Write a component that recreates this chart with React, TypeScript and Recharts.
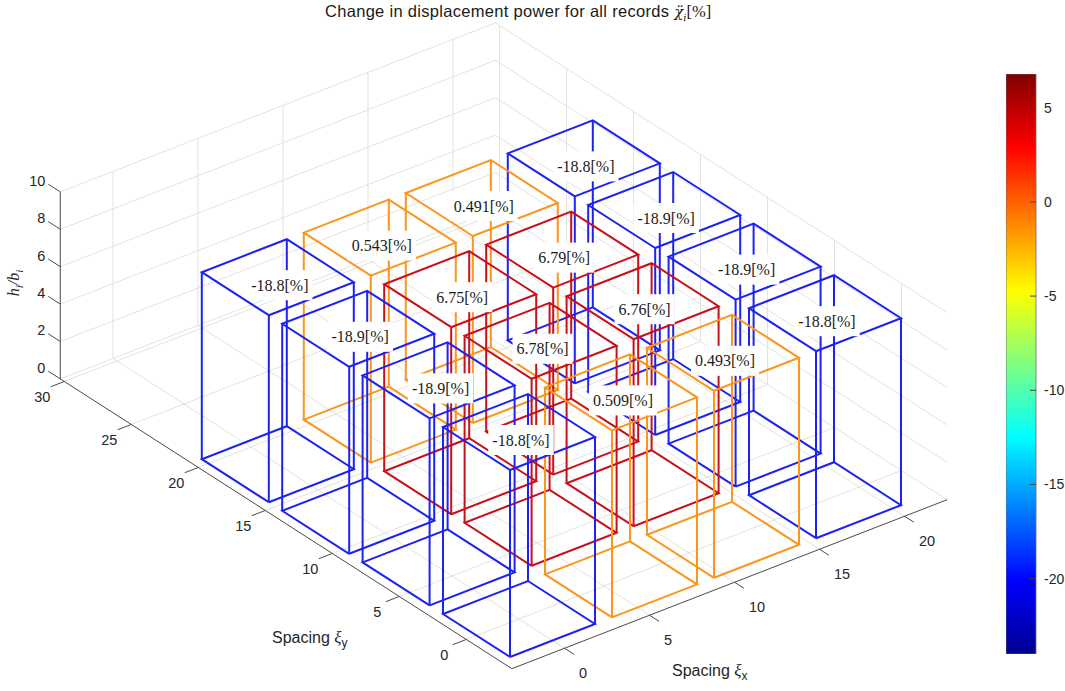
import React from "react";
import {
  ScatterChart,
  Scatter,
  XAxis,
  YAxis,
  ComposedChart,
  ReferenceArea,
  ReferenceLine,
} from "recharts";

// grid of cases (box centres) in spacing units
const SPACING_X = [0, 6, 12, 18];
const SPACING_Y = [0, 6, 12, 18];
const BOX_SIZE = 5;
const BOX_HEIGHT = 10;

// change in displacement power [%], one list per spacing_x column (along spacing_y)
const CHANGE_X0 = [-18.8, -18.9, -18.9, -18.8];
const CHANGE_X6 = [0.509, 6.78, 6.75, 0.543];
const CHANGE_X12 = [0.493, 6.76, 6.79, 0.491];
const CHANGE_X18 = [-18.8, -18.9, -18.9, -18.8];
const CHANGE = [CHANGE_X0, CHANGE_X6, CHANGE_X12, CHANGE_X18];

// 3d axes
const X_LIM = [-3.1, 22.5];
const Y_LIM = [-3.4, 30.3];
const Z_LIM = [0, 10];
const X_TICKS = [0, 5, 10, 15, 20];
const Y_TICKS = [0, 5, 10, 15, 20, 25, 30];
const Z_TICKS = [0, 2, 4, 6, 8, 10];

// colorbar
const CBAR_LIM = [-24, 6.79];
const CBAR_TICKS = [-20, -15, -10, -5, 0, 5];

const W = 1065;
const H = 691;

const BLUE = "#1c22f0";
const ORANGE = "#fb951c";
const RED = "#c8101a";
const GRID = "#e2e2e2";
const AXIS = "#4a4a4a";
const INK = "#262626";

const SANS = "'Liberation Sans', Arial, Helvetica, sans-serif";
const SERIF = "'Liberation Serif', 'Times New Roman', serif";

// orthographic view of the 3d box (screen units per data unit)
const VIEW = { u0: 519, v0: 619, ux: 17, vx: -6.6, uy: -13.4, vy: -8.6, vz: -18.7 };
const proj = (x: number, y: number, z: number) => ({
  u: VIEW.u0 + VIEW.ux * x + VIEW.uy * y,
  v: VIEW.v0 + VIEW.vx * x + VIEW.vy * y + VIEW.vz * z,
});

type Pt = { u: number; v: number };
type Seg = { pts: Pt[]; color: string; width: number };

const colorOf = (v: number) => (v < -10 ? BLUE : v < 3 ? ORANGE : RED);

const seg3 = (a: number[], b: number[], color: string, width = 1): Seg => ({
  pts: [proj(a[0], a[1], a[2]), proj(b[0], b[1], b[2])],
  color,
  width,
});

// grid lines on floor and back walls
const gridSegs: Seg[] = [];
X_TICKS.forEach((x) => {
  gridSegs.push(seg3([x, Y_LIM[0], 0], [x, Y_LIM[1], 0], GRID));
  gridSegs.push(seg3([x, Y_LIM[1], Z_LIM[0]], [x, Y_LIM[1], Z_LIM[1]], GRID));
});
Y_TICKS.forEach((y) => {
  gridSegs.push(seg3([X_LIM[0], y, 0], [X_LIM[1], y, 0], GRID));
  gridSegs.push(seg3([X_LIM[1], y, Z_LIM[0]], [X_LIM[1], y, Z_LIM[1]], GRID));
});
Z_TICKS.forEach((z) => {
  gridSegs.push(seg3([X_LIM[0], Y_LIM[1], z], [X_LIM[1], Y_LIM[1], z], GRID));
  gridSegs.push(seg3([X_LIM[1], Y_LIM[0], z], [X_LIM[1], Y_LIM[1], z], GRID));
});

// axis lines and tick marks
const axisSegs: Seg[] = [
  seg3([X_LIM[0], Y_LIM[0], 0], [X_LIM[1], Y_LIM[0], 0], AXIS),
  seg3([X_LIM[0], Y_LIM[0], 0], [X_LIM[0], Y_LIM[1], 0], AXIS),
  seg3([X_LIM[0], Y_LIM[1], Z_LIM[0]], [X_LIM[0], Y_LIM[1], Z_LIM[1]], AXIS),
];
X_TICKS.forEach((x) => axisSegs.push(seg3([x, Y_LIM[0], 0], [x, Y_LIM[0] - 0.7, 0], AXIS)));
Y_TICKS.forEach((y) => axisSegs.push(seg3([X_LIM[0], y, 0], [X_LIM[0] - 0.8, y, 0], AXIS)));
Z_TICKS.forEach((z) => axisSegs.push(seg3([X_LIM[0], Y_LIM[1], z], [X_LIM[0], Y_LIM[1] + 0.9, z], AXIS)));

// wireframe boxes, back to front
type Box = { cx: number; cy: number; value: number };
const boxes: Box[] = [];
SPACING_X.forEach((cx, i) =>
  SPACING_Y.forEach((cy, j) => boxes.push({ cx, cy, value: CHANGE[i][j] }))
);
boxes.sort((a, b) => b.cx + b.cy - (a.cx + a.cy));

const boxSegs: Seg[] = [];
boxes.forEach(({ cx, cy, value }) => {
  const h = BOX_SIZE / 2;
  const c = colorOf(value);
  const xs = [cx - h, cx + h];
  const ys = [cy - h, cy + h];
  const loop = (z: number): Seg => ({
    pts: [
      proj(xs[0], ys[0], z),
      proj(xs[1], ys[0], z),
      proj(xs[1], ys[1], z),
      proj(xs[0], ys[1], z),
      proj(xs[0], ys[0], z),
    ],
    color: c,
    width: 2,
  });
  boxSegs.push(loop(0), loop(BOX_HEIGHT));
  [
    [xs[0], ys[0]],
    [xs[1], ys[0]],
    [xs[1], ys[1]],
    [xs[0], ys[1]],
  ].forEach(([x, y]) => boxSegs.push(seg3([x, y, 0], [x, y, BOX_HEIGHT], c, 2)));
});

const boxLabels = boxes.map((b) => ({ ...proj(b.cx, b.cy, BOX_HEIGHT), label: `${b.value}[%]` }));

const xTickLabels = X_TICKS.map((x) => ({ ...proj(x, Y_LIM[0], 0), label: String(x) }));
const yTickLabels = Y_TICKS.map((y) => ({ ...proj(X_LIM[0], y, 0), label: String(y) }));
const zTickLabels = Z_TICKS.map((z) => ({ ...proj(X_LIM[0], Y_LIM[1], z), label: String(z) }));

const charW: Record<string, number> = { "-": 5.4, ".": 4, "[": 5.4, "]": 5.4, "%": 13.3 };
const textWidth = (s: string) => s.split("").reduce((w, ch) => w + (charW[ch] ?? 8), 0);

const NoDot = () => <g />;

const BoxLabel = (p: any) => {
  const { cx, cy, payload } = p;
  const w = textWidth(payload.label) + 8;
  const x = cx + 2;
  const y = cy + 8;
  return (
    <g>
      <rect x={x - w / 2} y={y - 15} width={w} height={30} fill="#fff" />
      <text
        x={x}
        y={y}
        textAnchor="middle"
        dominantBaseline="central"
        fontFamily={SERIF}
        fontSize={16}
        fill="#1a1a1a"
      >
        {payload.label}
      </text>
    </g>
  );
};

const tickText =
  (dx: number, dy: number, anchor: "start" | "middle" | "end") => (p: any) =>
    (
      <text
        x={p.cx + dx}
        y={p.cy + dy}
        textAnchor={anchor}
        dominantBaseline="central"
        fontFamily={SANS}
        fontSize={14.5}
        fill={INK}
      >
        {p.payload.label}
      </text>
    );

const renderSegs = (segs: Seg[], prefix: string) =>
  segs.map((s, i) => (
    <Scatter
      key={`${prefix}${i}`}
      data={s.pts}
      line={{ stroke: s.color, strokeWidth: s.width }}
      lineType="joint"
      shape={NoDot}
      fill="none"
      isAnimationActive={false}
    />
  ));

function Colorbar() {
  return (
    <ComposedChart
      width={76}
      height={580}
      margin={{ top: 0, right: 0, bottom: 0, left: 0 }}
      data={[{ x: 0 }, { x: 1 }]}
    >
      <defs>
        <linearGradient id="jet" x1="0" y1="1" x2="0" y2="0">
          <stop offset="0" stopColor="#00008f" />
          <stop offset="0.125" stopColor="#0000ff" />
          <stop offset="0.375" stopColor="#00ffff" />
          <stop offset="0.625" stopColor="#ffff00" />
          <stop offset="0.875" stopColor="#ff0000" />
          <stop offset="1" stopColor="#800000" />
        </linearGradient>
      </defs>
      <XAxis dataKey="x" type="number" domain={[0, 1]} hide />
      <YAxis
        type="number"
        orientation="right"
        domain={CBAR_LIM}
        ticks={CBAR_TICKS}
        allowDataOverflow
        width={46}
        axisLine={false}
        tickLine={false}
        tickSize={5}
        tickMargin={3}
        tick={{ fontFamily: SANS, fontSize: 14, fill: INK }}
      />
      <ReferenceArea
        x1={0}
        x2={1}
        y1={CBAR_LIM[0]}
        y2={CBAR_LIM[1]}
        fill="url(#jet)"
        fillOpacity={1}
        stroke="#6a6a6a"
        strokeWidth={0.8}
      />
      {CBAR_TICKS.map((t) => (
        <ReferenceLine
          key={t}
          segment={[
            { x: 0.8, y: t },
            { x: 1, y: t },
          ]}
          stroke="#444"
          strokeWidth={1}
        />
      ))}
    </ComposedChart>
  );
}

export default function App() {
  return (
    <div
      style={{
        position: "absolute",
        left: 0,
        top: 0,
        width: W,
        height: H,
        background: "#fff",
        fontFamily: SANS,
        color: INK,
        overflow: "hidden",
      }}
    >
      <div style={{ position: "absolute", left: 0, top: 0 }}>
        <ScatterChart width={W} height={H} margin={{ top: 0, right: 0, bottom: 0, left: 0 }}>
          <XAxis dataKey="u" type="number" domain={[0, W]} allowDataOverflow hide />
          <YAxis dataKey="v" type="number" domain={[0, H]} allowDataOverflow reversed hide />
          {renderSegs(gridSegs, "g")}
          {renderSegs(axisSegs, "a")}
          {renderSegs(boxSegs, "b")}
          <Scatter data={xTickLabels} shape={tickText(14.5, 25, "start")} isAnimationActive={false} />
          <Scatter data={yTickLabels} shape={tickText(-22, 16, "middle")} isAnimationActive={false} />
          <Scatter data={zTickLabels} shape={tickText(-15, -11, "end")} isAnimationActive={false} />
          <Scatter data={boxLabels} shape={BoxLabel} isAnimationActive={false} />
        </ScatterChart>
      </div>

      <div
        style={{
          position: "absolute",
          left: 325,
          top: 2,
          fontSize: 16.5,
          letterSpacing: 0.3,
          whiteSpace: "nowrap",
          color: "#1a1a1a",
        }}
      >
        Change in displacement power for all records{" "}
        <span style={{ fontFamily: "'DejaVu Serif', serif", fontStyle: "italic", fontSize: 15, letterSpacing: 0 }}>
          {"\u03c7\u0308"}
          <sub style={{ fontSize: 10 }}>i</sub>
        </span>
        <span style={{ fontFamily: SERIF, letterSpacing: 0 }}>[%]</span>
      </div>

      <div
        style={{
          position: "absolute",
          left: 272,
          top: 628,
          fontSize: 16,
          whiteSpace: "nowrap",
        }}
      >
        Spacing <span style={{ fontStyle: "italic", fontFamily: SERIF, fontSize: 17 }}>{"\u03be"}</span>
        <sub style={{ fontSize: 12 }}>y</sub>
      </div>
      <div
        style={{
          position: "absolute",
          left: 672,
          top: 661,
          fontSize: 16,
          whiteSpace: "nowrap",
        }}
      >
        Spacing <span style={{ fontStyle: "italic", fontFamily: SERIF, fontSize: 17 }}>{"\u03be"}</span>
        <sub style={{ fontSize: 12 }}>x</sub>
      </div>
      <div
        style={{
          position: "absolute",
          left: 15,
          top: 283,
          transform: "translate(-50%, -50%) rotate(-90deg)",
          fontFamily: SERIF,
          fontStyle: "italic",
          fontSize: 16,
          whiteSpace: "nowrap",
        }}
      >
        h<sub style={{ fontSize: 11 }}>i</sub>/b<sub style={{ fontSize: 11 }}>i</sub>
      </div>

      <div style={{ position: "absolute", left: 1006, top: 74 }}>
        <Colorbar />
      </div>
    </div>
  );
}
